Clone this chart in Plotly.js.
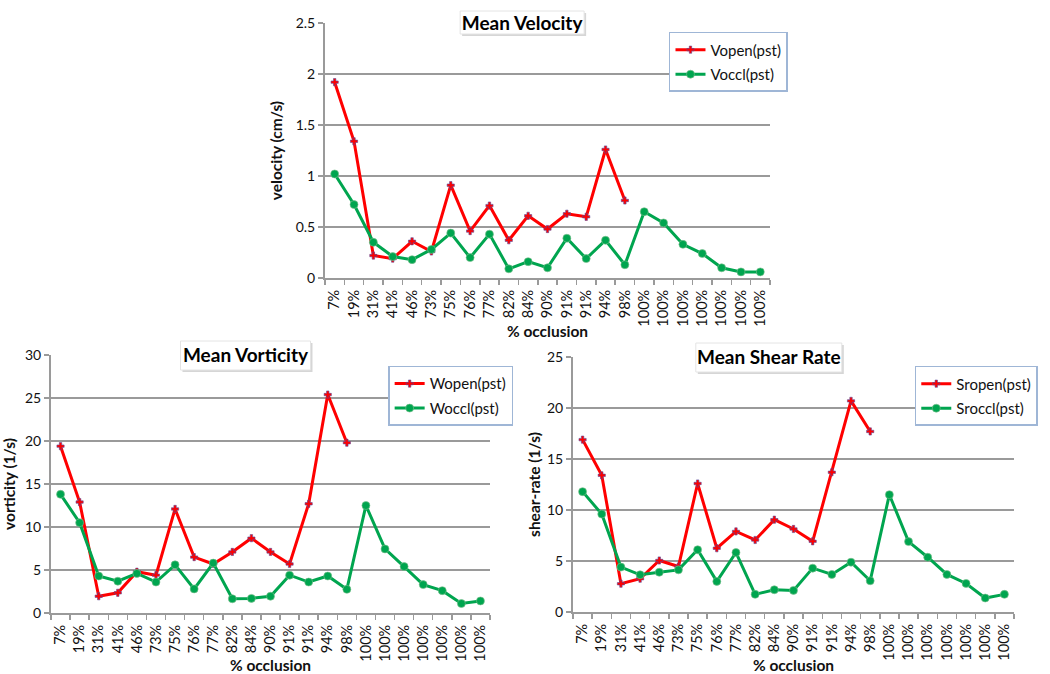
<!DOCTYPE html>
<html>
<head>
<meta charset="utf-8">
<script src="https://cdn.plot.ly/plotly-3.0.1.min.js"></script>
<style>
  html, body { margin: 0; padding: 0; background: #ffffff; }
  #wrap { position: relative; width: 1050px; height: 674px; overflow: hidden; }
  .chart { position: absolute; }
</style>
</head>
<body>
<div id="wrap">
  <div id="cVel" class="chart" style="left:230px; top:0px; width:570px; height:340px;"></div>
  <div id="cVor" class="chart" style="left:0px; top:340px; width:525px; height:334px;"></div>
  <div id="cShr" class="chart" style="left:525px; top:340px; width:525px; height:334px;"></div>
</div>
<script>
// ---- data ----
var categories = ['7%','19%','31%','41%','46%','73%','75%','76%','77%','82%','84%','90%','91%','91%','94%','98%','100%','100%','100%','100%','100%','100%','100%'];

var vOpen = [1.92,1.34,0.22,0.19,0.36,0.26,0.91,0.46,0.71,0.37,0.61,0.48,0.63,0.60,1.26,0.76,null,null,null,null,null,null,null];
var vOccl = [1.02,0.72,0.35,0.21,0.18,0.28,0.44,0.20,0.43,0.09,0.16,0.10,0.39,0.19,0.37,0.13,0.65,0.54,0.33,0.24,0.10,0.06,0.06];

var wOpen = [19.4,12.9,1.95,2.35,4.8,4.4,12.1,6.5,5.7,7.1,8.7,7.1,5.7,12.7,25.4,19.8,null,null,null,null,null,null,null];
var wOccl = [13.8,10.5,4.3,3.7,4.6,3.6,5.6,2.8,5.8,1.65,1.7,1.95,4.4,3.6,4.3,2.75,12.5,7.45,5.4,3.3,2.6,1.1,1.4];

var sOpen = [16.9,13.4,2.77,3.26,5.05,4.46,12.6,6.25,7.9,7.06,9.05,8.14,6.93,13.7,20.7,17.7,null,null,null,null,null,null,null];
var sOccl = [11.8,9.6,4.4,3.65,3.9,4.13,6.1,3.0,5.83,1.73,2.18,2.12,4.3,3.68,4.88,3.06,11.5,6.9,5.37,3.68,2.8,1.37,1.73];

// ---- styling ----
var FONT = 'Lato, "Liberation Sans", Arial, sans-serif';
var TXT = '#111111';
var GRID = '#9a9a9a';
var RED = '#ff0000';
var GREEN = '#00a54f';

var idx = categories.map(function (c, i) { return i; });
var bounds = categories.map(function (c, i) { return i - 0.5; }).concat([categories.length - 0.5]);

function makeChart(divId, cfg) {
  var traces = [
    {
      x: idx, y: cfg.open, name: cfg.openName, type: 'scatter', mode: 'lines+markers',
      legendgroup: 'a',
      line: { color: RED, width: 3 },
      marker: { symbol: 'cross', size: 6, color: RED, line: { color: '#5a4a9a', width: 0.6 } }
    },
    {
      x: idx, y: cfg.occl, name: cfg.occlName, type: 'scatter', mode: 'lines+markers',
      legendgroup: 'b',
      line: { color: GREEN, width: 3 },
      marker: { symbol: 'circle', size: 8, color: GREEN, line: { color: '#7fbf8f', width: 0.6 } }
    }
  ];
  var m = cfg.margin;
  var layout = {
    width: cfg.w, height: cfg.h,
    margin: { l: m.l, r: m.r, t: m.t, b: m.b, pad: 0 },
    paper_bgcolor: '#ffffff', plot_bgcolor: '#ffffff',
    font: { family: FONT, color: TXT, size: 14 },
    showlegend: true,
    title: {
      text: '<b>' + cfg.title + '</b>',
      font: { family: FONT, size: 19, color: '#000000' },
      x: cfg.titleX, xref: 'paper', xanchor: 'center',
      y: 1, yref: 'paper', yanchor: 'middle'
    },
    shapes: [
      { type: 'rect', xref: 'paper', yref: 'paper', xsizemode: 'pixel', ysizemode: 'pixel',
        xanchor: cfg.titleX, yanchor: 1, x0: -cfg.boxHalf + 2, x1: cfg.boxHalf + 2, y0: cfg.boxDown - 2, y1: cfg.boxUp - 2,
        fillcolor: '#d6d6d6', line: { width: 0 }, layer: 'above' },
      { type: 'rect', xref: 'paper', yref: 'paper', xsizemode: 'pixel', ysizemode: 'pixel',
        xanchor: cfg.titleX, yanchor: 1, x0: -cfg.boxHalf, x1: cfg.boxHalf, y0: cfg.boxDown, y1: cfg.boxUp,
        fillcolor: '#ffffff', line: { color: '#e4e4e4', width: 1 }, layer: 'above' }
    ],
    legend: {
      x: cfg.legX, y: cfg.legY, xref: 'paper', yref: 'paper', xanchor: 'left', yanchor: 'top',
      bgcolor: '#ffffff', bordercolor: '#9fb6d6', borderwidth: 1.5,
      font: { family: FONT, size: 15, color: TXT },
      itemwidth: 30, traceorder: 'grouped', tracegroupgap: 2
    },
    xaxis: {
      range: [-0.5, categories.length - 0.5],
      tickmode: 'array', tickvals: idx, ticktext: categories,
      tickangle: -90, ticks: '', ticklabelstandoff: 4,
      tickfont: { family: FONT, size: 14.5, color: TXT },
      showgrid: false, zeroline: false,
      showline: true, linecolor: GRID, linewidth: 2,
      minor: { tickmode: 'array', tickvals: bounds, ticks: 'outside', ticklen: 5, tickcolor: GRID, tickwidth: 1.5, showgrid: false },
      title: { text: '<b>% occlusion</b>', font: { family: FONT, size: 15.5, color: TXT }, standoff: 0 },
      fixedrange: true
    },
    yaxis: {
      range: [0, cfg.ymax], dtick: cfg.dtick, tick0: 0,
      ticks: 'outside', ticklen: 5, tickcolor: GRID, tickwidth: 1.5,
      tickfont: { family: FONT, size: 14, color: TXT },
      showgrid: true, gridcolor: GRID, gridwidth: 2,
      zeroline: false, showline: true, linecolor: GRID, linewidth: 2,
      title: { text: '<b>' + cfg.ytitle + '</b>', font: { family: FONT, size: 15.5, color: TXT }, standoff: 9 },
      fixedrange: true
    }
  };
  Plotly.newPlot(divId, traces, layout, { staticPlot: true, displayModeBar: false });
}

makeChart('cVel', {
  w: 570, h: 340, margin: { l: 95, r: 25, t: 23, b: 62 },
  title: 'Mean Velocity', titleX: 0.443, boxHalf: 62, boxUp: 12, boxDown: -11,
  legX: 0.773, legY: 0.965,
  ytitle: 'velocity (cm/s)', ymax: 2.5, dtick: 0.5,
  open: vOpen, occl: vOccl, openName: 'Vopen(pst)', occlName: 'Voccl(pst)'
});

makeChart('cVor', {
  w: 525, h: 334, margin: { l: 51, r: 25, t: 15, b: 61 },
  title: 'Mean Vorticity', titleX: 0.443, boxHalf: 65, boxUp: 14, boxDown: -15,
  legX: 0.768, legY: 0.958,
  ytitle: 'vorticity (1/s)', ymax: 30, dtick: 5,
  open: wOpen, occl: wOccl, openName: 'Wopen(pst)', occlName: 'Woccl(pst)'
});

makeChart('cShr', {
  w: 525, h: 334, margin: { l: 48, r: 33, t: 17, b: 62 },
  title: 'Mean Shear Rate', titleX: 0.444, boxHalf: 73, boxUp: 14, boxDown: -15,
  legX: 0.775, legY: 0.965,
  ytitle: 'shear-rate (1/s)', ymax: 25, dtick: 5,
  open: sOpen, occl: sOccl, openName: 'Sropen(pst)', occlName: 'Sroccl(pst)'
});
</script>
</body>
</html>
